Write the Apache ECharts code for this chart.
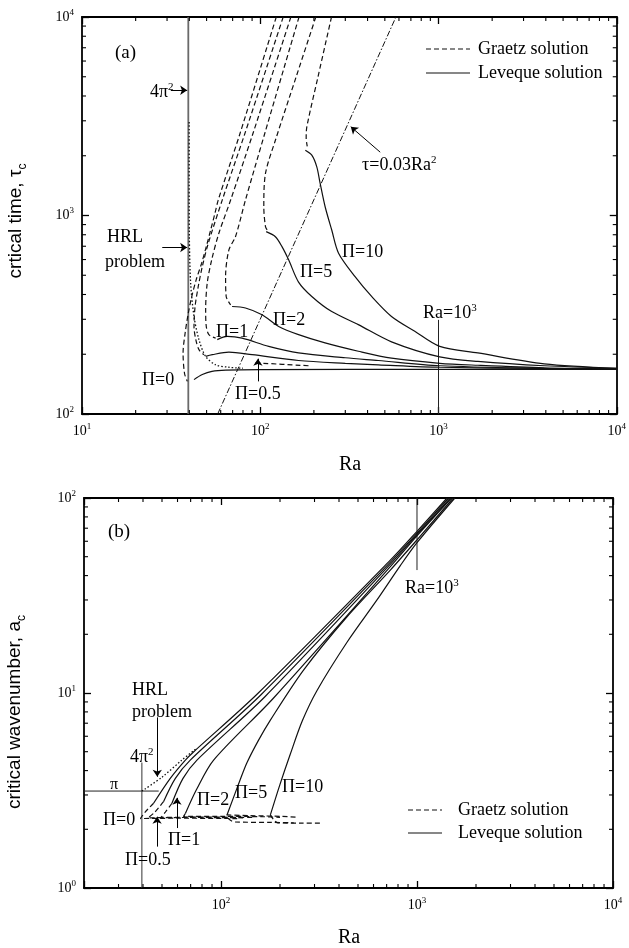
<!DOCTYPE html>
<html>
<head>
<meta charset="utf-8">
<script src="https://cdn.jsdelivr.net/npm/echarts@6/dist/echarts.min.js"></script>
<style>
html, body { margin: 0; padding: 0; background: #fff; }
#main { width: 629px; height: 948px; }
</style>
</head>
<body>
<div id="main"></div>
<script>
// ---- panel (a): critical time tau_c vs Ra, pairs [Ra, tau] ----
var aGraetz0  = [[123,10000],[77,2590],[58.1,1196],[55.7,1026],[52.7,845],[49.8,697],[46.9,575],[43.7,474],[41.3,391],[39.5,323],[37.9,256],[36.9,203],[37.6,160],[39.0,146]];
var aGraetz05 = [[134.5,10000],[82,2590],[61.2,1196],[51.1,724],[47.3,553],[44.9,439],[43.1,348],[42.5,276],[43.5,237],[45.3,211],[48.3,199]];
var aGraetz1  = [[148.5,10000],[91,2590],[68.2,1196],[58.6,814],[53.4,598],[50.4,456],[49.4,335],[49.8,276],[51.5,251],[56.2,241]];
var aGraetz2  = [[165,10000],[106,2590],[82.6,1196],[72.6,782],[66.7,671],[63.9,492],[64.4,391],[68.2,355]];
var aGraetz5  = [[205,10000],[160,5080],[121.6,2393],[107,1629],[104.7,1107],[107,879],[110,840]];
var aGraetz10 = [[251,10000],[211,5010],[182.5,2793],[181,2450],[183.5,2230]];
var aGraetzTail = [[94,181],[187,175]];

var aLeveque0  = [[42.5,149],[47.3,158],[53.6,164],[64.1,166.5],[100,167.5],[1000,168],[10000,168]];
var aLeveque05 = [[49.4,195],[53.8,199],[66.7,205],[90,199],[164,186],[300,180],[459,177],[1016,172],[3919,169.5],[10000,168.5]];
var aLeveque1  = [[57.4,237],[65.3,246],[79.1,241],[111.5,219],[164,203],[300,192],[459,186],[1016,175],[3919,170],[10000,168.5]];
var aLeveque2  = [[69.5,348],[82.6,342],[102.4,316],[126.9,276],[164,251],[231,228],[355,207],[545,191],[1016,180],[1663,176],[3919,171],[10000,169]];
var aLeveque5  = [[108,829],[121.6,782],[132.4,697],[144.3,598],[164,462],[194.6,391],[251.8,328],[355,282],[545,231],[1016,194],[1663,184],[3919,175],[10000,170]];
var aLeveque10 = [[179,2133],[194.6,2013],[207.6,1758],[216.8,1451],[231.2,1107],[251.8,845],[275,646],[340.4,492],[421.4,391],[544.9,310],[736,261],[1016,219],[1663,203],[3919,179],[10000,170]];

var aHRL     = [[39.9,2960],[39.9,1500],[40.0,800],[40.7,456],[42.5,310],[45.3,237],[49.4,195],[56.2,177],[66.7,172],[80,170]];
var aTauLine = [[57.7,100],[577,10000]];
var aFourPi2 = [[39.48,100],[39.48,10000]];
var aRa1000  = [[1000,100],[1000,298]];

// ---- panel (b): critical wavenumber a_c vs Ra, pairs [Ra, a] ----
var bGraetz0  = [[45.3,2.72],[41,2.45],[38.8,2.27],[60,2.28],[122,2.27]];
var bGraetz05 = [[50.9,2.77],[46,2.45],[42.5,2.29],[70,2.3],[134,2.29]];
var bGraetz1  = [[56.2,2.72],[52,2.45],[49.4,2.3],[80,2.31],[148,2.3]];
var bGraetz2  = [[65.8,2.41],[64.4,2.33],[100,2.33],[165,2.32],[200,2.3]];
var bGraetz5  = [[240,2.31],[205,2.33],[140,2.35],[107.3,2.37],[110,2.25],[118,2.18],[180,2.17],[235,2.16]];
var bGraetz10 = [[178.6,2.37],[185,2.25],[195,2.16],[260,2.15],[325,2.15]];

var bLeveque0  = [[45.3,2.72],[55.1,3.65],[65.8,4.53],[72.2,4.97],[155,10],[731,48],[1000,67.5],[1423,100]];
var bLeveque05 = [[50.9,2.77],[58.5,3.65],[69.7,4.53],[160,9.8],[740,47.5],[1000,66],[1450,100]];
var bLeveque1  = [[56.2,2.72],[64,3.65],[75.4,4.53],[168,9.6],[750,47],[1000,65],[1480,100]];
var bLeveque2  = [[65.8,2.41],[75,3.2],[91.7,4.53],[185,9.4],[760,46.5],[1000,64],[1500,100]];
var bLeveque5  = [[107.3,2.37],[125.4,3.6],[135.8,4.4],[155,5.7],[178.6,7.26],[263.7,13.1],[439.5,24.6],[731,42.7],[1000,61],[1530,100]];
var bLeveque10 = [[178.6,2.37],[200,3.4],[225.6,4.85],[260,7.2],[309,10.3],[439.5,18.2],[625,30],[822,45],[1000,59],[1560,100]];

var bHRL    = [[39.48,3.1416],[50,3.7],[63.2,4.53],[75,5.2]];
var bPiLine = [[20,3.1416],[48.1,3.1416]];
var bFourPi2 = [[39.48,1],[39.48,4.4]];
var bRa1000 = [[1000,42.7],[1000,100]];

// minor tick multipliers per decade
var minorMult = [2,3,4,5,6,7,8,9];
var aDecX = [10,100,1000], aDecY = [100,1000];
var bDecX = [10,100,1000], bDecY = [1,10];

var SERIF = '"Liberation Serif", "Times New Roman", serif';
var SANS = '"Liberation Sans", Arial, sans-serif';
var INK = '#111';

function powLabel(v) {
  var e = Math.round(Math.log(v) / Math.LN10);
  if (Math.abs(v - Math.pow(10, e)) > 1e-6 * v) return '';
  return '{b|10}{s|' + e + '}';
}
var labelRich = {
  b: { fontSize: 14, fontFamily: SERIF, color: '#000', lineHeight: 18 },
  s: { fontSize: 9, fontFamily: SERIF, color: '#000', verticalAlign: 'top', lineHeight: 18 }
};

function logAxis(grid, pos, min, max, showLabel) {
  return {
    type: 'log', logBase: 10, gridIndex: grid, position: pos, min: min, max: max,
    axisLine: { show: true, onZero: false, lineStyle: { color: '#000', width: 1.8 } },
    axisTick: { show: true, inside: true, length: 7, lineStyle: { color: '#000', width: 1.3 } },
    axisLabel: { show: showLabel, formatter: powLabel, rich: labelRich, margin: 8 },
    splitLine: { show: false }
  };
}

function curve(data, xi, yi, type, width, color) {
  return {
    type: 'line', xAxisIndex: xi, yAxisIndex: yi, data: data,
    symbol: 'none', smooth: 0.3, silent: true, animation: false, z: 3,
    lineStyle: { color: color || INK, width: width || 1.2, type: type || 'solid' }
  };
}

function minorSeries(xi, yi, decX, decY, xr, yr) {
  var data = [];
  decX.forEach(function (d) { minorMult.forEach(function (m) {
    var v = d * m; if (v > xr[0] && v < xr[1]) data.push([v, yr[0], 0]);
  }); });
  decY.forEach(function (d) { minorMult.forEach(function (m) {
    var v = d * m; if (v > yr[0] && v < yr[1]) data.push([xr[0], v, 1]);
  }); });
  return {
    type: 'custom', xAxisIndex: xi, yAxisIndex: yi, silent: true, animation: false, clip: false, z: 4,
    data: data,
    renderItem: function (params, api) {
      var L = 4, st = { stroke: '#000', lineWidth: 1.1 };
      if (api.value(2) === 0) {
        var b = api.coord([api.value(0), yr[0]]), t = api.coord([api.value(0), yr[1]]);
        return { type: 'group', children: [
          { type: 'line', shape: { x1: b[0], y1: b[1], x2: b[0], y2: b[1] - L }, style: st },
          { type: 'line', shape: { x1: t[0], y1: t[1], x2: t[0], y2: t[1] + L }, style: st }
        ] };
      }
      var l = api.coord([xr[0], api.value(1)]), r = api.coord([xr[1], api.value(1)]);
      return { type: 'group', children: [
        { type: 'line', shape: { x1: l[0], y1: l[1], x2: l[0] + L, y2: l[1] }, style: st },
        { type: 'line', shape: { x1: r[0], y1: r[1], x2: r[0] - L, y2: r[1] }, style: st }
      ] };
    }
  };
}

function arrows(list) {
  return {
    silent: true, animation: false, symbol: ['none', 'arrow'], symbolSize: 7,
    lineStyle: { color: '#000', width: 1, type: 'solid' }, label: { show: false },
    emphasis: { disabled: true },
    data: list.map(function (p) { return [{ coord: p[0] }, { coord: p[1] }]; })
  };
}

var supRich = {
  s: { font: '11px ' + SERIF, fill: '#000', verticalAlign: 'top', lineHeight: 20 },
  n: { font: '18px ' + SERIF, fill: '#000', lineHeight: 20 }
};
function txt(x, y, text, size, align) {
  return { type: 'text', x: x, y: y, silent: true, z: 10, style: {
    text: text, font: (size || 18) + 'px ' + SERIF, fill: '#000',
    textAlign: align || 'left', align: align || 'left', textVerticalAlign: 'middle', verticalAlign: 'middle'
  } };
}
function rtxt(x, y, text) {
  var t = txt(x, y, text); t.style.rich = supRich; return t;
}
function yname(x, y, text) {
  return { type: 'text', x: x, y: y, rotation: Math.PI / 2, silent: true, z: 10, style: {
    text: text, font: '19px ' + SANS, fill: '#000', textAlign: 'center', align: 'center',
    textVerticalAlign: 'middle', verticalAlign: 'middle',
    rich: { sub: { font: '12px ' + SANS, fill: '#000', verticalAlign: 'bottom', lineHeight: 26 } }
  } };
}
function legLine(x1, x2, y, dashed) {
  return { type: 'line', silent: true, z: 10, shape: { x1: x1, y1: y, x2: x2, y2: y },
    style: { stroke: INK, lineWidth: 1.2, lineDash: dashed ? [5, 3] : null } };
}

var chart = echarts.init(document.getElementById('main'), null, { renderer: 'canvas' });

var refA = curve(aRa1000, 0, 0, 'solid', 1, '#222');
refA.smooth = false;
refA.markLine = arrows([
  [[31.5, 4275], [38.9, 4275]],
  [[28.2, 690], [38.9, 690]],
  [[97, 146], [97, 190]],
  [[471, 2084], [322, 2800]]
]);
var refB = curve(bRa1000, 2, 2, 'solid', 1, '#222');
refB.smooth = false;
refB.markLine = arrows([
  [[47.3, 7.5], [47.3, 3.72]],
  [[47.2, 1.63], [47.2, 2.32]],
  [[59.6, 2.03], [59.6, 2.9]]
]);

var four = curve(aFourPi2, 0, 0, 'solid', 1.8, '#6a6a6a'); four.smooth = false;
var tauL = curve(aTauLine, 0, 0, [6, 2, 1.5, 2], 1, INK); tauL.smooth = false;
var fourB = curve(bFourPi2, 2, 2, 'solid', 1, '#333'); fourB.smooth = false;
var piB = curve(bPiLine, 2, 2, 'solid', 1, '#222'); piB.smooth = false;

var DASH = [5, 3], DOT = [1.5, 2];

chart.setOption({
  backgroundColor: '#fff',
  animation: false,
  grid: [
    { left: 82, top: 17, width: 538, height: 397 },
    { left: 84, top: 498, width: 529, height: 390 }
  ],
  xAxis: [
    logAxis(0, 'bottom', 10, 10000, true),
    logAxis(0, 'top', 10, 10000, false),
    logAxis(1, 'bottom', 20, 10000, true),
    logAxis(1, 'top', 20, 10000, false)
  ],
  yAxis: [
    logAxis(0, 'left', 100, 10000, true),
    logAxis(0, 'right', 100, 10000, false),
    logAxis(1, 'left', 1, 100, true),
    logAxis(1, 'right', 1, 100, false)
  ],
  series: [
    minorSeries(0, 0, aDecX, aDecY, [10, 10000], [100, 10000]),
    minorSeries(2, 2, bDecX, bDecY, [20, 10000], [1, 100]),
    four, tauL, refA,
    curve(aGraetz0, 0, 0, DASH), curve(aGraetz05, 0, 0, DASH), curve(aGraetz1, 0, 0, DASH),
    curve(aGraetz2, 0, 0, DASH), curve(aGraetz5, 0, 0, DASH), curve(aGraetz10, 0, 0, DASH),
    curve(aGraetzTail, 0, 0, DASH),
    curve(aLeveque0, 0, 0), curve(aLeveque05, 0, 0), curve(aLeveque1, 0, 0),
    curve(aLeveque2, 0, 0), curve(aLeveque5, 0, 0), curve(aLeveque10, 0, 0),
    curve(aHRL, 0, 0, DOT, 1.3),
    fourB, piB, refB,
    curve(bGraetz0, 2, 2, DASH), curve(bGraetz05, 2, 2, DASH), curve(bGraetz1, 2, 2, DASH),
    curve(bGraetz2, 2, 2, DASH), curve(bGraetz5, 2, 2, DASH), curve(bGraetz10, 2, 2, DASH),
    curve(bLeveque0, 2, 2), curve(bLeveque05, 2, 2), curve(bLeveque1, 2, 2),
    curve(bLeveque2, 2, 2), curve(bLeveque5, 2, 2), curve(bLeveque10, 2, 2),
    curve(bHRL, 2, 2, DOT, 1.3)
  ],
  graphic: [
    txt(115, 53, '(a)', 19),
    rtxt(150, 92, '{n|4π}{s|2}'),
    txt(107, 237, 'HRL'), txt(105, 262, 'problem'),
    txt(142, 380, 'Π=0'), txt(235, 394, 'Π=0.5'), txt(216, 332, 'Π=1'),
    txt(273, 320, 'Π=2'), txt(300, 272, 'Π=5'), txt(342, 252, 'Π=10'),
    rtxt(362, 165, '{n|τ=0.03Ra}{s|2}'),
    rtxt(423, 313, '{n|Ra=10}{s|3}'),
    legLine(426, 470, 49, true), txt(478, 49, 'Graetz solution'),
    legLine(426, 470, 73, false), txt(478, 73, 'Leveque solution'),
    txt(350, 465, 'Ra', 20, 'center'),
    yname(16, 221, 'crtical time, τ{sub|c}'),

    txt(108, 532, '(b)', 19),
    rtxt(405, 588, '{n|Ra=10}{s|3}'),
    txt(132, 690, 'HRL'), txt(132, 712, 'problem'),
    rtxt(130, 757, '{n|4π}{s|2}'),
    txt(110, 785, 'π', 16),
    txt(103, 820, 'Π=0'), txt(125, 860, 'Π=0.5'), txt(168, 840, 'Π=1'),
    txt(197, 800, 'Π=2'), txt(235, 793, 'Π=5'), txt(282, 787, 'Π=10'),
    legLine(408, 442, 810, true), txt(458, 810, 'Graetz solution'),
    legLine(408, 442, 833, false), txt(458, 833, 'Leveque solution'),
    txt(349, 938, 'Ra', 20, 'center'),
    yname(15, 712, 'critical wavenumber, a{sub|c}')
  ]
});
</script>
</body>
</html>
